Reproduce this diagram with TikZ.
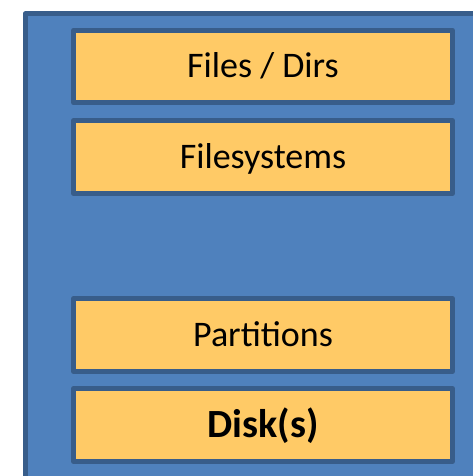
\documentclass[tikz,border=0pt]{standalone}
\usepackage{fontspec}
\setmainfont{Carlito}
\definecolor{panelfill}{HTML}{4F81BD}
\definecolor{panelline}{HTML}{385D8A}
\definecolor{layerfill}{HTML}{FFCA66}
\tikzset{
  panel/.style={draw=panelline, fill=panelfill, line width=5pt, line join=round},
  layer/.style={draw=panelline, fill=layerfill, line width=5.3pt, line join=round,
    rectangle, inner sep=0pt, minimum width=378.6pt, minimum height=72.6pt,
    text height=23pt, text depth=0pt, font=\fontsize{36}{40}\selectfont},
}
\begin{document}
\begin{tikzpicture}[x=1pt,y=-1pt]
  \useasboundingbox (0,0) rectangle (473,476);
  \clip (0,0) rectangle (473,476);
  % outer panel, running past the right and bottom edges
  \draw[panel] (25.3,13.7) rectangle (490,495);
  % storage layers, top to bottom
  \node[layer] (files) at (263,66.5) {Files / Dirs};
  \node[layer] (fs)    at (263,157)  {Filesystems};
  \node[layer] (parts) at (263,335)  {Partitions};
  \node[layer, text height=24.5pt, font=\fontsize{40}{44}\selectfont\bfseries] (disk) at (263,425) {Disk(s)};
\end{tikzpicture}
\end{document}
